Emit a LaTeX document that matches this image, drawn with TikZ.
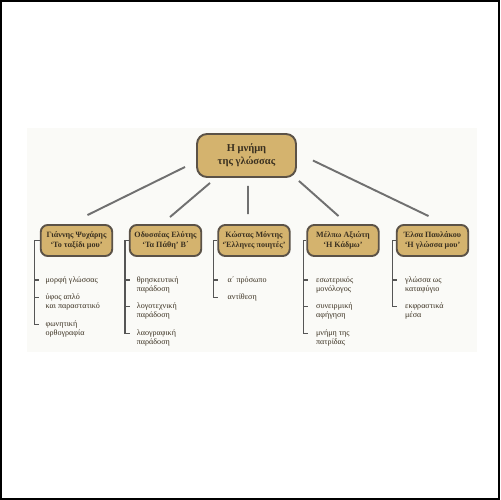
\documentclass[tikz,border=0pt]{standalone}
\usepackage{fontspec}
\setmainfont{Liberation Serif}
\definecolor{boxfill}{HTML}{D4B36E}
\definecolor{boxline}{HTML}{5B5247}
\definecolor{conn}{HTML}{707070}
\definecolor{brk}{HTML}{555555}
\definecolor{txt}{HTML}{3A3020}
\definecolor{panel}{HTML}{FAFAF7}
\tikzset{
  rootbox/.style={draw=boxline, line width=1.1pt, fill=boxfill, rounded corners=0.2cm,
    minimum width=1.98cm, minimum height=0.86cm, align=center, inner sep=1pt,
    text=txt, font=\fontsize{6}{7.2}\selectfont\bfseries},
  childbox/.style={draw=boxline, line width=1.1pt, fill=boxfill, rounded corners=0.14cm,
    minimum width=1.43cm, minimum height=0.62cm, align=center, inner sep=1pt,
    text=txt, font=\fontsize{4.6}{5.3}\selectfont\bfseries},
  item/.style={anchor=north west, inner sep=0pt, align=left, text=txt,
    font=\fontsize{4.6}{5.1}\selectfont},
  conline/.style={draw=conn, line width=1.1pt},
  brline/.style={draw=brk, line width=0.8pt},
}
\begin{document}
\begin{tikzpicture}[x=0.02cm,y=-0.02cm]
\useasboundingbox (0,0) rectangle (500,500);
\fill[panel] (27,128) rectangle (477,352);
\draw[black, line width=0.9pt] (0.8,0.8) rectangle (499.2,499.2);

\node[rootbox] (root) at (246.5,155.5) {Η μνήμη\\της γλώσσας};

\node[childbox] (c1) at (76.5,240.5) {Γιάννης Ψυχάρης\\‘Το ταξίδι μου’};
\node[childbox] (c2) at (165.5,240.5) {Οδυσσέας Ελύτης\\‘Τα Πάθη’ Β΄};
\node[childbox] (c3) at (254,240.5) {Κώστας Μόντης\\‘Έλληνες ποιητές’};
\node[childbox] (c4) at (343,240.5) {Μέλπω Αξιώτη\\‘Η Κάδμω’};
\node[childbox] (c5) at (432.5,240.5) {Έλσα Παυλάκου\\‘Η γλώσσα μου’};

% connectors from root
\draw[conline] ([shift={(-11,-11)}]root.south west) -- ([shift={(11,-9)}]c1.north);
\draw[conline] ([shift={(-36.5,5)}]root.south) -- ([shift={(4.5,-7)}]c2.north);
\draw[conline] ([shift={(1.5,8)}]root.south) -- ([shift={(-6,-10)}]c3.north);
\draw[conline] ([shift={(2,3)}]root.south east) -- ([shift={(-4.5,-8)}]c4.north);
\draw[conline] ([shift={(16,5)}]root.east) -- ([shift={(-4,-8)}]c5.north);

% tick coordinates
\coordinate (t11) at (34.3,280);
\coordinate (t12) at (34.3,297.7);
\coordinate (t13) at (34.3,324.3);
\coordinate (t21) at (125,280);
\coordinate (t22) at (125,306.7);
\coordinate (t23) at (125,333.3);
\coordinate (t31) at (213.3,280);
\coordinate (t32) at (213.3,297.7);
\coordinate (t41) at (303.3,280);
\coordinate (t42) at (303.3,306.7);
\coordinate (t43) at (303.3,333.3);
\coordinate (t51) at (392.3,280);
\coordinate (t52) at (392.3,306.7);

% items
\node[item] (i11) at ([shift={(11,-3.8)}]t11) {μορφή γλώσσας};
\node[item] (i12) at ([shift={(11,-3.8)}]t12) {ύφος απλό\\και παραστατικό};
\node[item] (i13) at ([shift={(11,-3.8)}]t13) {φωνητική\\ορθογραφία};
\node[item] (i21) at ([shift={(11.5,-3.8)}]t21) {θρησκευτική\\παράδοση};
\node[item] (i22) at ([shift={(11.5,-3.8)}]t22) {λογοτεχνική\\παράδοση};
\node[item] (i23) at ([shift={(11.5,-3.8)}]t23) {λαογραφική\\παράδοση};
\node[item] (i31) at ([shift={(14,-3.8)}]t31) {α΄ πρόσωπο};
\node[item] (i32) at ([shift={(14,-3.8)}]t32) {αντίθεση};
\node[item] (i41) at ([shift={(12.5,-3.8)}]t41) {εσωτερικός\\μονόλογος};
\node[item] (i42) at ([shift={(12.5,-3.8)}]t42) {συνειρμική\\αφήγηση};
\node[item] (i43) at ([shift={(12.5,-3.8)}]t43) {μνήμη της\\πατρίδας};
\node[item] (i51) at ([shift={(12.5,-3.8)}]t51) {γλώσσα ως\\καταφύγιο};
\node[item] (i52) at ([shift={(12.5,-3.8)}]t52) {εκφραστικά\\μέσα};

% brackets
\draw[brline] (c1.west) -| (t13) -- ++(5,0);
\draw[brline] (t11) -- ++(5,0);
\draw[brline] (t12) -- ++(5,0);
\draw[brline] (c2.west) -| (t23) -- ++(5,0);
\draw[brline] (t21) -- ++(5,0);
\draw[brline] (t22) -- ++(5,0);
\draw[brline] (c3.west) -| (t32) -- ++(5,0);
\draw[brline] (t31) -- ++(5,0);
\draw[brline] (c4.west) -| (t43) -- ++(5,0);
\draw[brline] (t41) -- ++(5,0);
\draw[brline] (t42) -- ++(5,0);
\draw[brline] (c5.west) -| (t52) -- ++(5,0);
\draw[brline] (t51) -- ++(5,0);
\end{tikzpicture}
\end{document}
